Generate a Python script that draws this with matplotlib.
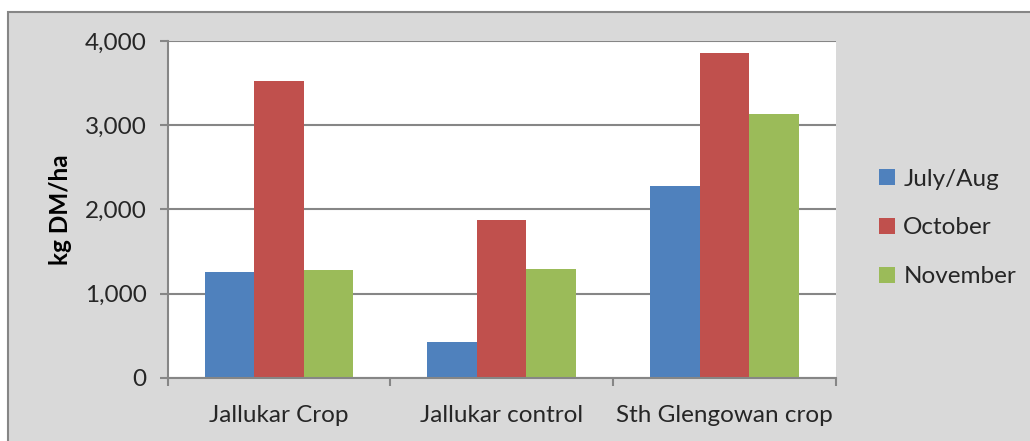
#!/usr/bin/env python3
"""Pasture dry matter by site and sampling month, clustered bar chart."""

import matplotlib.pyplot as plt
import numpy as np
from matplotlib.patches import Rectangle

plt.rcParams["font.family"] = ["Lato", "DejaVu Sans"]

sites = ["Jallukar Crop", "Jallukar control", "Sth Glengowan crop"]
months = ["July/Aug", "October", "November"]
july_aug = [1250, 425, 2280]
october = [3530, 1870, 3855]
november = [1280, 1290, 3135]
yticks = [0, 1000, 2000, 3000, 4000]

colours = ["#4F81BD", "#C0504D", "#9BBB59"]
grid_grey = "#868686"
text_col = "#262626"
fsize = 17.5

fig = plt.figure(figsize=(10.3, 4.41), dpi=100, facecolor="white")

# chart area panel with outer border, kept behind the axes
panel = Rectangle(
    (8 / 1030, -0.1), 1.1, (441 - 12) / 441 + 0.1,
    transform=fig.transFigure, facecolor="#D9D9D9",
    edgecolor=grid_grey, linewidth=1.5, zorder=-1,
)
fig.patches.append(panel)

ax = fig.add_axes([0.1628, 0.1435, 0.6486, 0.7635])
ax.set_facecolor("white")

x = np.arange(len(sites))
width = 0.667 / 3
for i, (vals, name) in enumerate(zip([july_aug, october, november], months)):
    ax.bar(x + (i - 1) * width, vals, width, color=colours[i], label=name,
           zorder=3)

ax.set_xlim(-0.5, len(sites) - 0.5)
ax.set_ylim(0, 4000)
ax.set_yticks(yticks)
ax.set_yticklabels([f"{v:,}" for v in yticks])
ax.yaxis.grid(True, color=grid_grey, linewidth=1.5, zorder=1)
ax.set_axisbelow(True)

# category boundary ticks on the x axis
ax.set_xticks(np.arange(-0.5, len(sites), 1.0))
ax.set_xticklabels([])
ax.set_xticks(x, minor=True)
ax.set_xticklabels(sites, minor=True)
ax.tick_params(axis="x", which="minor", length=0, pad=20,
               labelsize=fsize, labelcolor=text_col)
ax.tick_params(axis="x", which="major", length=6, width=1.5,
               color=grid_grey, direction="out")
ax.tick_params(axis="y", length=6, width=1.5, color=grid_grey,
               labelsize=fsize, labelcolor=text_col, pad=9)

for side in ["top", "right"]:
    ax.spines[side].set_visible(False)
for side in ["left", "bottom"]:
    ax.spines[side].set_color(grid_grey)
    ax.spines[side].set_linewidth(1.5)
    ax.spines[side].set_zorder(4)

fig.text(60 / 1030, 1 - 210 / 441, "kg DM/ha", rotation=90, ha="center",
         va="center", fontsize=fsize, fontweight="bold", color="black")

fig.legend(loc="center left", bbox_to_anchor=(879 / 1030, 1 - 228 / 441),
           frameon=False, fontsize=fsize, handlelength=0.65,
           handleheight=0.65, handletextpad=0.35, labelspacing=1.15,
           labelcolor=text_col, borderaxespad=0, borderpad=0)

fig.savefig("out.png", dpi=100, facecolor=fig.get_facecolor())
